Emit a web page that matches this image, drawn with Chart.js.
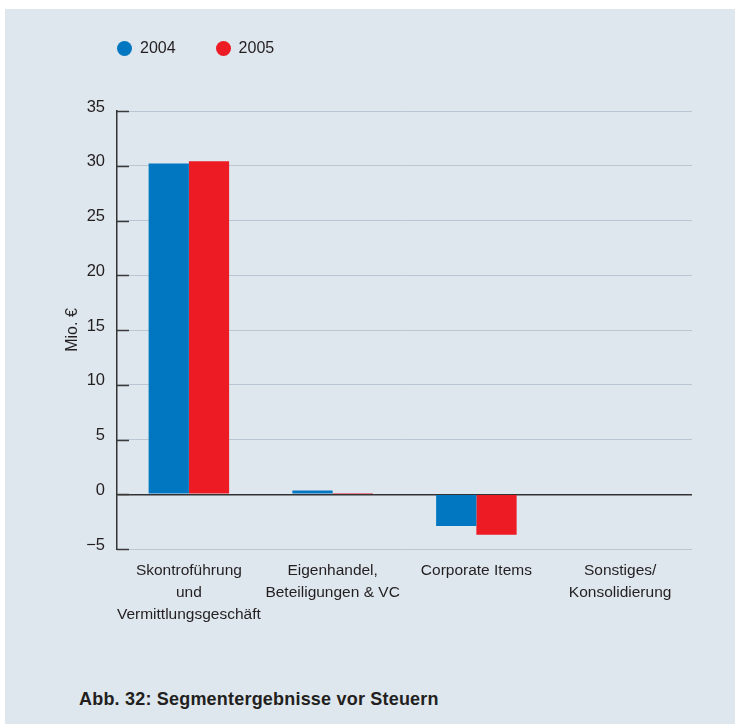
<!DOCTYPE html>
<html>
<head>
<meta charset="utf-8">
<script src="https://cdn.jsdelivr.net/npm/chart.js@4"></script>
<style>
  html, body { margin: 0; padding: 0; background: #fff; }
  body { width: 735px; height: 724px; position: relative; overflow: hidden; font-family: 'Liberation Sans', Arial, sans-serif; color: #231f20; }
  .panel { position: absolute; left: 5px; top: 9px; width: 730px; height: 715px; background: #dee6ee; }
  #chartWrap { position: absolute; left: 0; top: 0; width: 735px; height: 640px; }
  .legend { position: absolute; top: 39px; left: 117px; display: flex; font-size: 16px; }
  .legend-item { display: flex; align-items: center; margin-right: 40px; }
  .legend-dot { width: 15px; height: 15px; border-radius: 50%; margin-right: 8px; }
  .caption { position: absolute; left: 79px; top: 689px; font-size: 18px; font-weight: bold; letter-spacing: 0.2px; }
</style>
</head>
<body>
<div class="panel"></div>
<div id="chartWrap"><canvas id="chart" width="735" height="640"></canvas></div>
<div class="legend" id="legend"></div>
<div class="caption">Abb. 32: Segmentergebnisse vor Steuern</div>
<script>
// ─── Data ───
const categories = [
    ['Skontroführung', 'und', 'Vermittlungsgeschäft'],
    ['Eigenhandel,', 'Beteiligungen & VC'],
    ['Corporate Items'],
    ['Sonstiges/', 'Konsolidierung']
];
const seriesNames = ['2004', '2005'];
const values2004 = [30.2, 0.35, -2.9, 0];
const values2005 = [30.4, 0.12, -3.7, 0];
const colors = ['#0077c0', '#ed1c24'];
const yTicks = [-5, 0, 5, 10, 15, 20, 25, 30, 35];

// ─── Legend (HTML) ───
const legendEl = document.getElementById('legend');
seriesNames.forEach((name, i) => {
    const item = document.createElement('div');
    item.className = 'legend-item';
    item.innerHTML = `<span class="legend-dot" style="background:${colors[i]}"></span>${name}`;
    legendEl.appendChild(item);
});

// short dark tick marks drawn inside the plot, right of the y axis
const innerTicks = {
    id: 'innerTicks',
    beforeDatasetsDraw(chart) {
        const { ctx, chartArea, scales } = chart;
        ctx.save();
        ctx.strokeStyle = '#3a3a3a';
        ctx.lineWidth = 1.5;
        yTicks.forEach(v => {
            const y = Math.round(scales.y.getPixelForValue(v)) + 0.5;
            ctx.beginPath();
            ctx.moveTo(chartArea.left, y);
            ctx.lineTo(chartArea.left + 12, y);
            ctx.stroke();
        });
        ctx.restore();
    }
};

Chart.defaults.font.family = "'Liberation Sans', Arial, sans-serif";
Chart.defaults.color = '#231f20';

new Chart(document.getElementById('chart').getContext('2d'), {
    type: 'bar',
    data: {
        labels: categories,
        datasets: [
            { label: seriesNames[0], data: values2004, backgroundColor: colors[0] },
            { label: seriesNames[1], data: values2005, backgroundColor: colors[1] }
        ]
    },
    options: {
        responsive: false,
        animation: false,
        layout: { padding: { left: 63, right: 43, top: 111, bottom: 11 } },
        datasets: { bar: { categoryPercentage: 0.56, barPercentage: 1.0 } },
        plugins: { legend: { display: false }, tooltip: { enabled: false } },
        scales: {
            x: {
                grid: { display: false, drawTicks: false },
                border: { display: false },
                ticks: { font: { size: 15.5, lineHeight: 1.42 }, maxRotation: 0, autoSkip: false, padding: 11 },
                afterFit(scale) { scale.height = 80; }
            },
            y: {
                min: -5,
                max: 35,
                afterBuildTicks(scale) { scale.ticks = yTicks.map(v => ({ value: v })); },
                grid: {
                    drawTicks: false,
                    color: ctx => ctx.tick && ctx.tick.value === 0 ? '#333333' : '#b8c7d3',
                    lineWidth: ctx => ctx.tick && ctx.tick.value === 0 ? 1.5 : 1
                },
                border: { display: true, color: '#333333', width: 1.5 },
                ticks: {
                    font: { size: 16.5 },
                    padding: 12,
                    labelOffset: -4,
                    callback: v => v < 0 ? '\u2212' + Math.abs(v) : String(v)
                },
                title: { display: true, text: 'Mio. €', font: { size: 16 }, padding: { top: 0, bottom: 0 } },
                afterFit(scale) { scale.width = 54; }
            }
        }
    },
    plugins: [innerTicks]
});
</script>
</body>
</html>
